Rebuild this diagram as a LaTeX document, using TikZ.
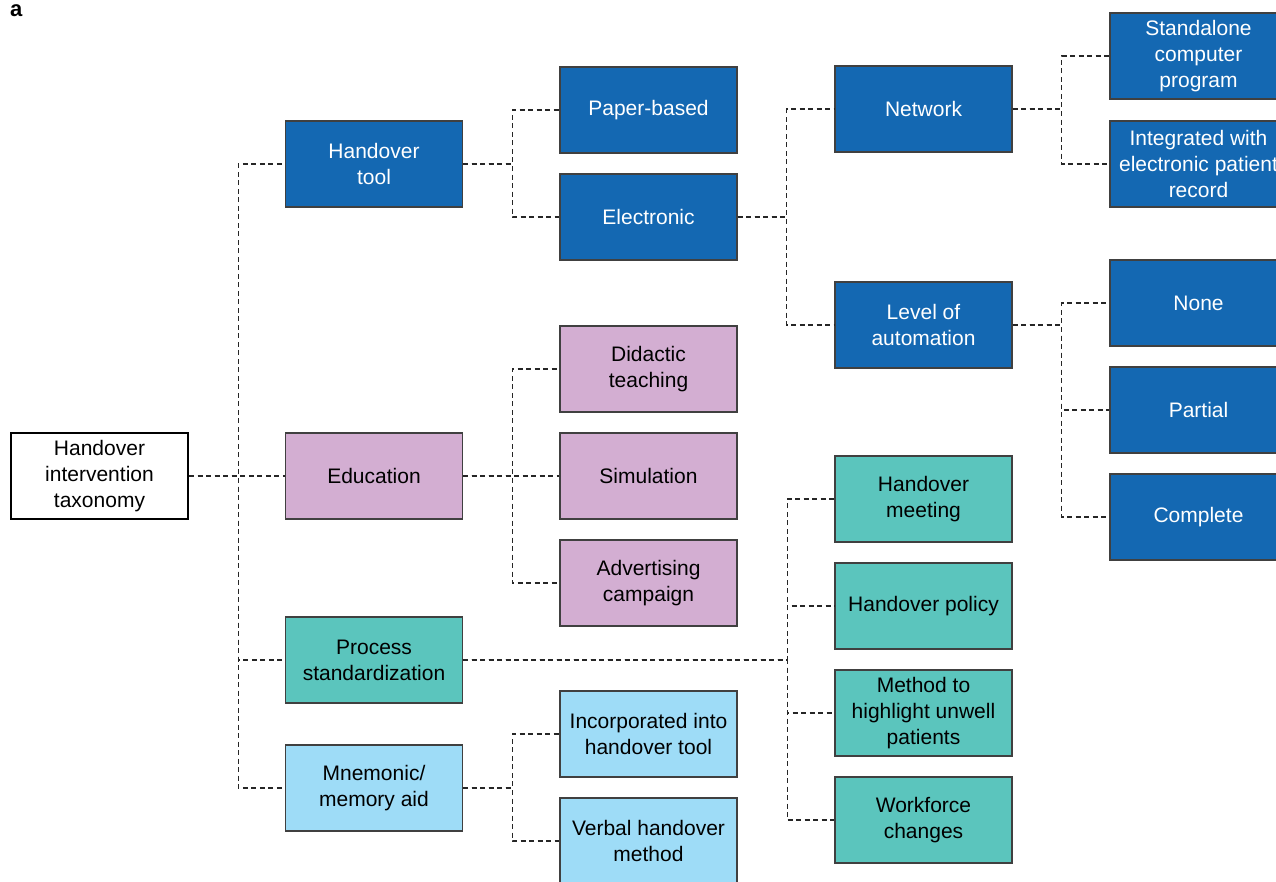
\documentclass[tikz,border=0pt]{standalone}
\usepackage{fontspec}
\setmainfont{Liberation Sans}

% box colours
\definecolor{toolBlue}{RGB}{20,104,178}
\definecolor{eduPink}{RGB}{211,174,210}
\definecolor{procTeal}{RGB}{91,197,189}
\definecolor{mnemBlue}{RGB}{158,220,247}

\begin{document}
\begin{tikzpicture}[x=1pt, y=-1pt,
  box/.style={draw=black!75, line width=1.2pt, minimum width=177pt, minimum height=86pt,
    align=center, inner sep=2pt, font=\fontsize{21}{26}\selectfont},
  rootbox/.style={box, draw=black, line width=2.5pt, fill=white},
  toolbox/.style={box, fill=toolBlue, text=white},
  edubox/.style={box, fill=eduPink},
  procbox/.style={box, fill=procTeal},
  mnembox/.style={box, fill=mnemBlue},
  link/.style={draw=black!85, line width=1.2pt, dash pattern=on 5pt off 3.5pt}]
\useasboundingbox (0,0) rectangle (1276,881);
\node[anchor=base west, inner sep=0pt, font=\fontsize{22}{26}\selectfont\bfseries] (lbl) at (10,16) {a};
% Root
\node[rootbox] (root) at (99.5,476) {Handover\\intervention\\taxonomy};
% Level 1
\node[toolbox] (tool) at (374,164) {Handover\\tool};
\node[edubox]  (edu)  at (374,476) {Education};
\node[procbox] (proc) at (374,660) {Process\\standardization};
\node[mnembox] (mnem) at (374,788) {Mnemonic/\\memory aid};
% Level 2
\node[toolbox] (paper) at (648.5,110) {Paper-based};
\node[toolbox] (elec)  at (648.5,217) {Electronic};
\node[edubox]  (didac) at (648.5,369) {Didactic\\teaching};
\node[edubox]  (sim)   at (648.5,476) {Simulation};
\node[edubox]  (adv)   at (648.5,583) {Advertising\\campaign};
\node[mnembox] (incorp) at (648.5,734) {Incorporated into\\handover tool};
\node[mnembox] (verbal) at (648.5,841) {Verbal handover\\method};
% Level 3
\node[toolbox]  (net)   at (923.5,109) {Network};
\node[toolbox]  (auto)  at (923.5,325) {Level of\\automation};
\node[procbox]  (meet)  at (923.5,499) {Handover\\meeting};
\node[procbox]  (policy) at (923.5,606) {Handover policy};
\node[procbox]  (unwell) at (923.5,713) {Method to\\highlight unwell\\patients};
\node[procbox]  (work)  at (923.5,820) {Workforce\\changes};
% Level 4
\node[toolbox] (stand) at (1198.5,56) {Standalone\\computer\\program};
\node[toolbox] (integ) at (1198.5,164) {Integrated with\\electronic patient\\record};
\node[toolbox] (none)  at (1198.5,303) {None};
\node[toolbox] (part)  at (1198.5,410) {Partial};
\node[toolbox] (comp)  at (1198.5,517) {Complete};
% Connectors
\foreach \c in {tool,edu,proc,mnem}
  \draw[link] (root.east) -- +(49,0) |- (\c.west);
\foreach \c in {paper,elec}
  \draw[link] (tool.east) -- +(49,0) |- (\c.west);
\foreach \c in {didac,sim,adv}
  \draw[link] (edu.east) -- +(49,0) |- (\c.west);
\foreach \c in {incorp,verbal}
  \draw[link] (mnem.east) -- +(49,0) |- (\c.west);
\foreach \c in {meet,policy,unwell,work}
  \draw[link] (proc.east) -- +(324,0) |- (\c.west);
\foreach \c in {net,auto}
  \draw[link] (elec.east) -- +(49,0) |- (\c.west);
\foreach \c in {stand,integ}
  \draw[link] (net.east) -- +(49,0) |- (\c.west);
\foreach \c in {none,part,comp}
  \draw[link] (auto.east) -- +(49,0) |- (\c.west);
\end{tikzpicture}
\end{document}
